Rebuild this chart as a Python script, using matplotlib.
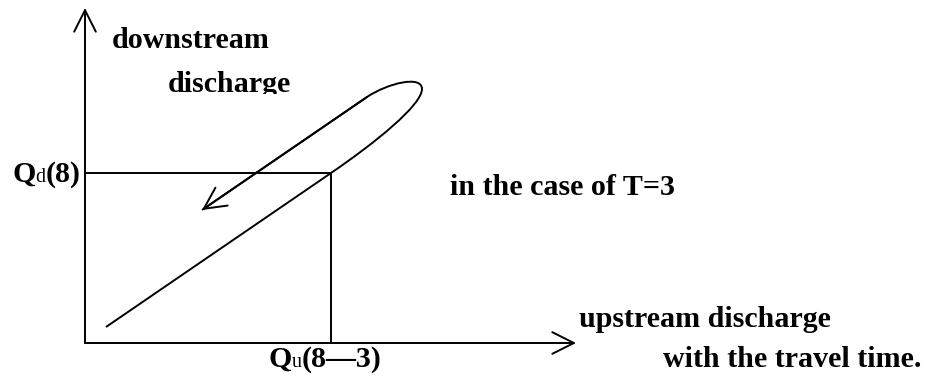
import matplotlib.pyplot as plt
from matplotlib.path import Path
from matplotlib.patches import PathPatch
from matplotlib.transforms import Bbox, TransformedBbox

# schematic values, plot units with the origin at the corner of the axes
x_axis_end = 491
y_axis_end = 335
qu_lagged = 246   # Qu(8-3)
qd_now = 170      # Qd(8)

# hysteresis loop: rising limb, turn-around (cubic control points), falling limb
rising_x = [21, qu_lagged]
rising_y = [16, qd_now]
turn_x = [290, 337, 337, 337, 303, 282]
turn_y = [200, 238, 254, 268, 260, 246]
falling_end = (117, 133)

LW = 1.4
FONT = ['Liberation Serif', 'DejaVu Serif']
SIZE = 21.6
SUB = 14.4
# annotate scales arrow heads by its 10 pt text size
arrow_style = '->,head_length=1.55,head_width=0.78'

fig = plt.figure(figsize=(9.31, 3.81), dpi=100)
ax = fig.add_axes([0, 0, 1, 1])
ax.set_xlim(-85, 846)
ax.set_ylim(-38, 343)
ax.axis('off')

# axes with open arrowheads
for tip in [(0, y_axis_end), (x_axis_end, 0)]:
    ax.annotate('', xy=tip, xytext=(0, 0),
                arrowprops=dict(arrowstyle=arrow_style, lw=LW, color='black',
                                shrinkA=0, shrinkB=0))

# the Qd(8) / Qu(8-3) box
ax.plot([0, qu_lagged, qu_lagged], [qd_now, qd_now, 0], color='black', lw=LW,
        solid_capstyle='butt')

# loop
verts = [(rising_x[0], rising_y[0]), (rising_x[1], rising_y[1])]
codes = [Path.MOVETO, Path.LINETO]
for x, y in zip(turn_x, turn_y):
    verts.append((x, y))
    codes.append(Path.CURVE4)
verts.append(falling_end)
codes.append(Path.LINETO)
ax.add_patch(PathPatch(Path(verts, codes), facecolor='none', edgecolor='black',
                       lw=LW, capstyle='butt'))
# arrowhead at the end of the falling limb
ax.annotate('', xy=falling_end, xytext=(turn_x[-1], turn_y[-1]),
            arrowprops=dict(arrowstyle=arrow_style, lw=LW, color='black',
                            shrinkA=0, shrinkB=0))

fig.canvas.draw()
renderer = fig.canvas.get_renderer()


def chain_text(x, y, pieces):
    """Write pieces (text, size, weight) one after another on a common baseline."""
    for txt, size, weight in pieces:
        t = ax.text(x, y, txt, fontsize=size, fontweight=weight, family=FONT,
                    ha='left', va='baseline')
        ext = t.get_window_extent(renderer)
        x = ax.transData.inverted().transform((ext.x1, ext.y0))[0]


chain_text(-73, 161, [('Q', SIZE, 'bold'), ('d', SUB, 'normal'), ('(8)', SIZE, 'bold')])
chain_text(183, -24, [('Q', SIZE, 'bold'), ('u', SUB, 'normal'),
                      ('(8\u20143)', SIZE, 'bold')])

ax.text(27, 295, 'downstream', fontsize=SIZE, fontweight='bold', family=FONT,
        va='baseline')
dis = ax.text(83, 251, 'discharge', fontsize=SIZE, fontweight='bold', family=FONT,
              va='baseline')
# the label is cut just under its baseline in the original
dis.set_clip_on(True)
dis.set_clip_box(TransformedBbox(Bbox([[-85, 249.5], [846, 343]]), ax.transData))

ax.text(365, 148, 'in the case of T=3', fontsize=SIZE, fontweight='bold', family=FONT,
        va='baseline')
ax.text(494, 16, 'upstream discharge', fontsize=SIZE, fontweight='bold', family=FONT,
        va='baseline')
ax.text(578, -24, 'with the travel time.', fontsize=SIZE, fontweight='bold', family=FONT,
        va='baseline')

fig.savefig('out.png', dpi=100)
